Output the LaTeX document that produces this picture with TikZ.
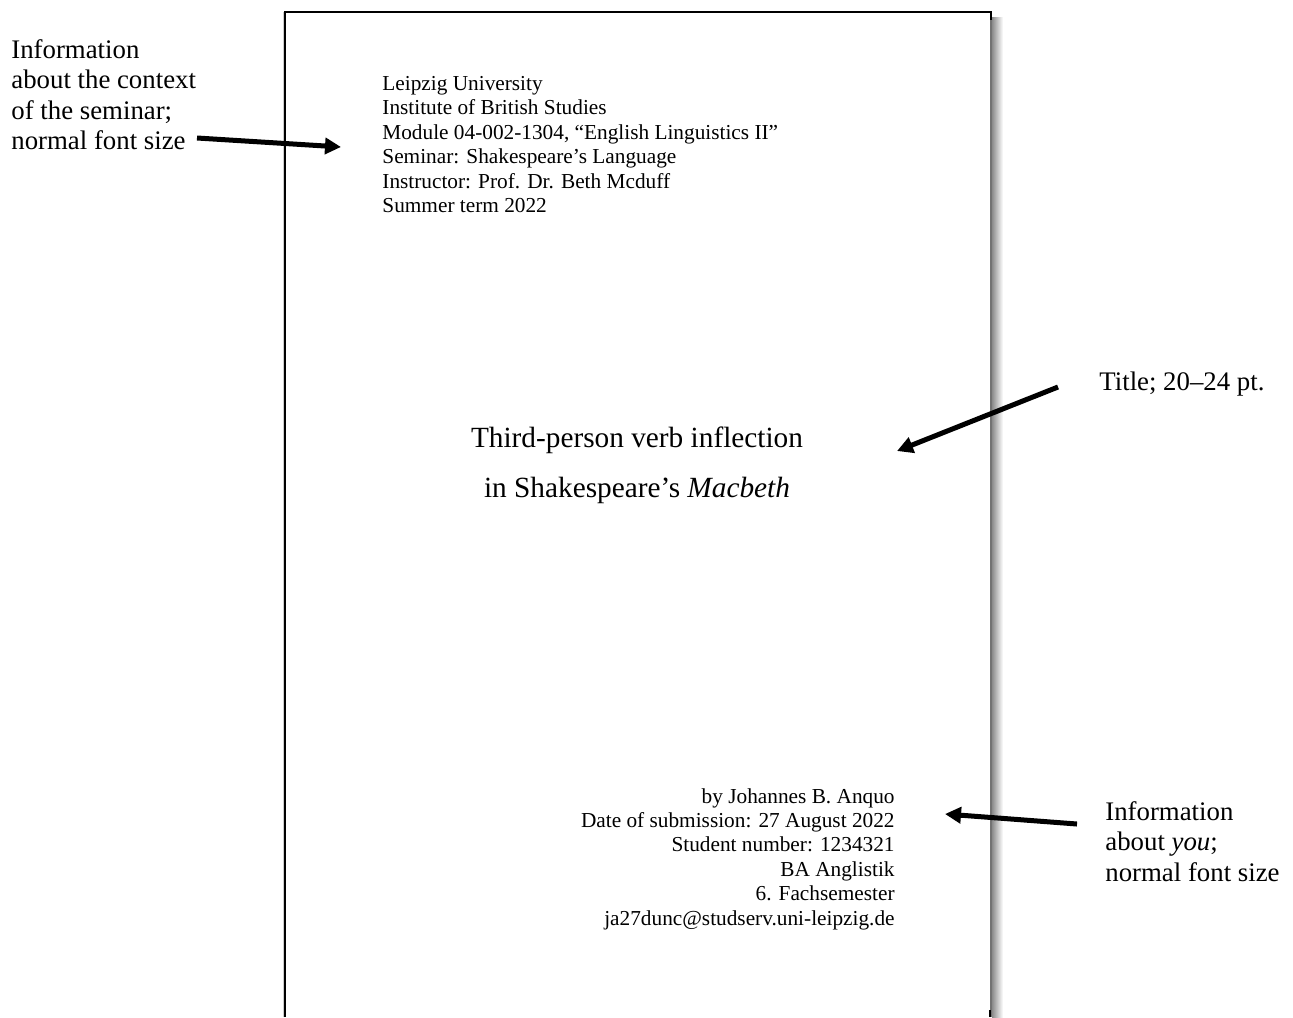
\documentclass[tikz,border=0pt]{standalone}
\usepackage{fontspec}
\setmainfont{Liberation Serif}
\usetikzlibrary{arrows.meta}

\tikzset{
  pagetext/.style={inner sep=0pt, font=\fontsize{10.65}{12.2}\selectfont},
  titletext/.style={inner sep=0pt, align=center, font=\fontsize{14.65}{25}\selectfont},
  notetext/.style={inner sep=0pt, align=left, font=\fontsize{13.4}{15.2}\selectfont},
  pointer/.style={line width=2.5pt, -{Triangle[length=8pt, width=8pt]}}
}

\begin{document}
\begin{tikzpicture}[x=0.5pt, y=-0.5pt]
  \useasboundingbox (0,0) rectangle (1293,1017);

  % the page
  \shade[left color=black!45, right color=white] (992,17) rectangle (1003,1017);
  \draw[black!55, line width=1pt] (991,12) -- (991,1017);
  \draw[black!20, line width=0.5pt] (283,12) -- (283,1017);
  \draw[line width=1pt] (285,1017) -- (285,12) -- (991,12) -- (991,20);
  \draw[line width=1pt] (990,1010) -- (990,1017);

  % text on the page
  \node[pagetext, anchor=north west, align=left] (context) at (382,76)
    {Leipzig University\\
     Institute of British Studies\\
     Module 04-002-1304, “English Linguistics II”\\
     Seminar: Shakespeare’s Language\\
     Instructor: Prof. Dr. Beth Mcduff\\
     Summer term 2022};
  \node[titletext, anchor=north] (title) at (637,426)
    {Third-person verb inflection\\
     in Shakespeare’s \textit{Macbeth}};
  \node[pagetext, anchor=north east, align=right] (student) at (895,788)
    {by Johannes B. Anquo\\
     Date of submission: 27 August 2022\\
     Student number: 1234321\\
     BA Anglistik\\
     6. Fachsemester\\
     ja27dunc@studserv.uni-leipzig.de};

  % notes beside the page
  \node[notetext, anchor=north west] (contextnote) at (11,39)
    {Information\\ about the context\\ of the seminar;\\ normal font size};
  \node[notetext, anchor=north west] (titlenote) at (1099,371)
    {Title; 20–24 pt.};
  \node[notetext, anchor=north west] (studentnote) at (1105,801)
    {Information\\ about \textit{you};\\ normal font size};

  % pointers
  \coordinate (contexttail) at (197,138);
  \coordinate (contexttip) at (341,147);
  \coordinate (titletail) at (1058,387);
  \coordinate (titletip) at (897,451);
  \coordinate (studenttail) at (1077,824);
  \coordinate (studenttip) at (945,814);
  \draw[pointer] (contexttail) -- (contexttip);
  \draw[pointer] (titletail) -- (titletip);
  \draw[pointer] (studenttail) -- (studenttip);
\end{tikzpicture}
\end{document}
